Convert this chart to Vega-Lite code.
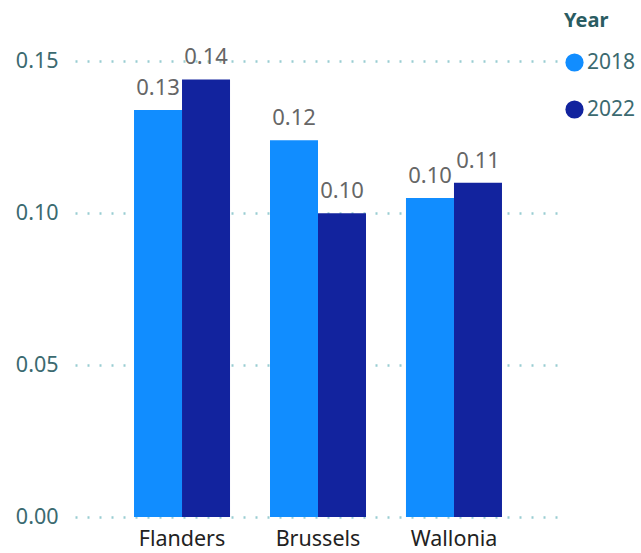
{
  "$schema": "https://vega.github.io/schema/vega-lite/v6.json",
  "autosize": {"type": "none"},
  "padding": {"left": 75, "top": 40, "right": 80, "bottom": 36},
  "width": 486,
  "height": 477,
  "background": "white",
  "config": {
    "view": {"stroke": null},
    "font": "Noto Sans"
  },
  "data": {
    "values": [
      {"region": "Flanders", "year": "2018", "value": 0.134},
      {"region": "Flanders", "year": "2022", "value": 0.144},
      {"region": "Brussels", "year": "2018", "value": 0.124},
      {"region": "Brussels", "year": "2022", "value": 0.100},
      {"region": "Wallonia", "year": "2018", "value": 0.105},
      {"region": "Wallonia", "year": "2022", "value": 0.110}
    ]
  },
  "encoding": {
    "x": {
      "field": "region",
      "type": "nominal",
      "sort": ["Flanders", "Brussels", "Wallonia"],
      "scale": {"paddingInner": 0.294, "paddingOuter": 0.434},
      "axis": {
        "title": null,
        "labelAngle": 0,
        "labelFontSize": 21.5,
        "labelColor": "#222222",
        "labelPadding": 11,
        "ticks": false,
        "domain": false
      }
    },
    "xOffset": {"field": "year", "type": "nominal"},
    "y": {
      "field": "value",
      "type": "quantitative",
      "scale": {"domain": [0, 0.157], "nice": false},
      "axis": {
        "title": null,
        "values": [0, 0.05, 0.1, 0.15],
        "format": ".2f",
        "labelFontSize": 21.5,
        "labelColor": "#3b6a70",
        "labelPadding": 17,
        "ticks": false,
        "domain": false,
        "grid": true,
        "gridColor": "#99cdd2",
        "gridDash": [2, 10],
        "gridWidth": 2.5
      }
    }
  },
  "layer": [
    {
      "mark": {"type": "bar"},
      "encoding": {
        "color": {
          "field": "year",
          "type": "nominal",
          "scale": {"domain": ["2018", "2022"], "range": ["#118DFF", "#12239E"]},
          "legend": {
            "title": "Year",
            "orient": "none",
            "legendX": 489,
            "legendY": -29,
            "symbolType": "circle",
            "symbolSize": 330,
            "symbolStrokeWidth": 0,
            "titleFontSize": 20,
            "titleFontWeight": "bold",
            "titleColor": "#2a5c62",
            "titlePadding": 21,
            "labelFontSize": 21,
            "labelColor": "#3b6a70",
            "labelOffset": 2,
            "rowPadding": 25
          }
        }
      }
    },
    {
      "mark": {"type": "text", "baseline": "bottom", "dy": -10, "fontSize": 22, "color": "#666666"},
      "encoding": {
        "text": {"field": "value", "type": "quantitative", "format": ".2f"}
      }
    }
  ]
}
